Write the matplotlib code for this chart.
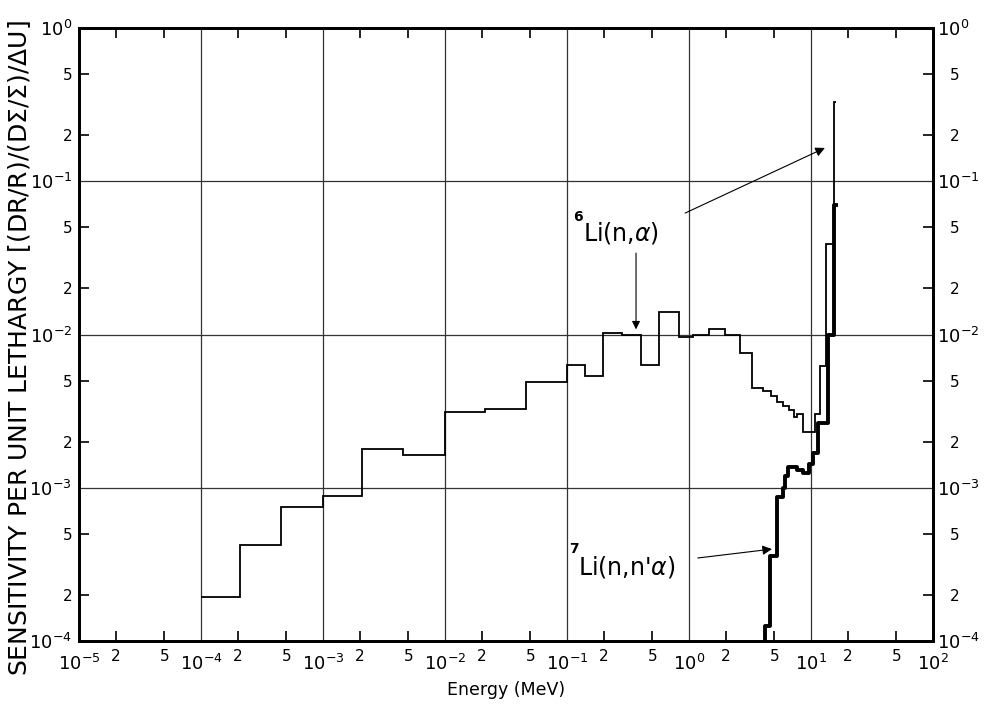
import numpy as np
import matplotlib
matplotlib.use("Agg")
import matplotlib.pyplot as plt
from matplotlib.ticker import FixedLocator, FixedFormatter

# ---------------- data ----------------
# 6Li(n,alpha) sensitivity: group boundaries (MeV) and values
li6_edges = [1.0e-4, 2.1e-4, 4.5e-4, 1.0e-3, 2.1e-3, 4.5e-3, 1.0e-2, 2.13e-2, 4.6e-2,
             0.100, 0.141, 0.197, 0.282, 0.405, 0.568, 0.828, 1.08, 1.46, 1.97,
             2.62, 3.28, 4.05, 4.70, 5.25, 5.89, 6.61, 7.24, 7.67, 8.59,
             10.8, 11.9, 13.3, 15.35, 15.96]
li6_vals = [1.94e-4, 4.24e-4, 7.5e-4, 8.8e-4, 1.8e-3, 1.64e-3, 3.12e-3, 3.27e-3,
            4.9e-3, 6.3e-3, 5.36e-3, 1.02e-2, 1.0e-2, 6.3e-3, 1.40e-2, 9.6e-3,
            1.0e-2, 1.09e-2, 1.0e-2, 7.57e-3, 4.48e-3, 4.28e-3, 3.97e-3, 3.63e-3,
            3.4e-3, 3.2e-3, 2.9e-3, 3.05e-3, 2.3e-3, 3.05e-3, 6.2e-3, 3.9e-2, 0.33]

# 7Li(n,n'alpha) sensitivity
li7_edges = [4.20, 4.61, 5.26, 5.89, 6.17, 6.47, 7.67, 8.59, 9.64, 10.4, 11.4,
             13.8, 15.45, 15.96]
li7_vals = [1.25e-4, 3.6e-4, 8.7e-4, 1.0e-3, 1.2e-3, 1.36e-3, 1.31e-3, 1.24e-3,
            1.42e-3, 1.69e-3, 2.64e-3, 1.0e-2, 7.0e-2]

x_major = [1e-5, 1e-4, 1e-3, 1e-2, 1e-1, 1e0, 1e1, 1e2]
x_major_labels = [r'$10^{-5}$', r'$10^{-4}$', r'$10^{-3}$', r'$10^{-2}$',
                  r'$10^{-1}$', r'$10^{0}$', r'$10^{1}$', r'$10^{2}$']
y_major = [1e-4, 1e-3, 1e-2, 1e-1, 1e0]
y_major_labels = [r'$10^{-4}$', r'$10^{-3}$', r'$10^{-2}$', r'$10^{-1}$', r'$10^{0}$']
minor_mults = [2, 5]

XLIM = (1e-5, 1e2)
YLIM = (1e-4, 1e0)

# ---------------- figure ----------------
plt.rcParams['font.family'] = ['DejaVu Sans']
plt.rcParams['mathtext.fontset'] = 'dejavusans'

fig = plt.figure(figsize=(9.88, 7.04), dpi=100)
ax = fig.add_axes([79/988, 1-641/704, (933-79)/988, (641-28)/704])
ax.set_xscale('log')
ax.set_yscale('log')
ax.set_xlim(*XLIM)
ax.set_ylim(*YLIM)

# grid at decades
ax.grid(True, which='major', color='#333333', lw=0.9)
ax.set_axisbelow(True)

# 6Li curve (thin)
ax.stairs(li6_vals, li6_edges, baseline=None, color='black', lw=1.3, zorder=3)
# 7Li curve (thick), rising from the bottom of the frame
x7 = np.r_[li7_edges[0], li7_edges]
y7 = np.r_[YLIM[0], li7_vals, li7_vals[-1]]
ax.plot(x7, y7, drawstyle='steps-post', color='black', lw=2.8, zorder=4)

# ticks
def minor_positions(lo, hi):
    out = []
    d = lo
    while d < hi:
        for m in minor_mults:
            out.append(d*m)
        d *= 10
    return out

xminor = minor_positions(*XLIM)
yminor = minor_positions(*YLIM)

ax.xaxis.set_major_locator(FixedLocator(x_major))
ax.xaxis.set_major_formatter(FixedFormatter(x_major_labels))
ax.xaxis.set_minor_locator(FixedLocator(xminor))
ax.xaxis.set_minor_formatter(FixedFormatter([str(m) for m in minor_mults]*(len(xminor)//2)))

ax.yaxis.set_major_locator(FixedLocator(y_major))
ax.yaxis.set_major_formatter(FixedFormatter(y_major_labels))
ax.yaxis.set_minor_locator(FixedLocator(yminor))
ax.yaxis.set_minor_formatter(FixedFormatter([str(m) for m in minor_mults]*(len(yminor)//2)))

ax.tick_params(which='both', direction='in', top=True, right=False)
ax.tick_params(which='major', length=0, labelsize=13)
ax.tick_params(which='minor', length=7, width=1.2, labelsize=11)
ax.tick_params(axis='x', which='major', pad=9)
ax.tick_params(axis='x', which='minor', pad=6)
ax.tick_params(axis='y', which='major', pad=5)
ax.tick_params(axis='y', which='minor', pad=5)

for s in ax.spines.values():
    s.set_linewidth(2.0)

# right axis duplicate
ax2 = ax.twinx()
ax2.set_yscale('log')
ax2.set_ylim(*YLIM)
ax2.yaxis.set_major_locator(FixedLocator(y_major))
ax2.yaxis.set_major_formatter(FixedFormatter(y_major_labels))
ax2.yaxis.set_minor_locator(FixedLocator(yminor))
ax2.yaxis.set_minor_formatter(FixedFormatter([str(m) for m in minor_mults]*(len(yminor)//2)))
ax2.tick_params(which='both', direction='in')
ax2.tick_params(which='major', length=0, labelsize=13, pad=3)
ax2.tick_params(which='minor', length=7, width=1.2, labelsize=11, pad=12)
for s in ax2.spines.values():
    s.set_linewidth(2.0)

# labels
ax.set_xlabel('Energy (MeV)', fontsize=12.5, labelpad=5)
fig.text(0.020, 0.505, r'SENSITIVITY PER UNIT LETHARGY [(DR/R)/(D$\Sigma$/$\Sigma$)/$\Delta$U]',
         rotation=90, va='center', ha='center', fontsize=18)

# annotations
ax.text(0.135, 0.0459, r'Li(n,$\alpha$)', fontsize=17, va='center', ha='left')
ax.text(0.112, 0.0585, '6', fontsize=10, va='center', ha='left', fontweight='bold')
ax.annotate('', xy=(13.0, 0.165), xytext=(0.93, 0.062),
            arrowprops=dict(arrowstyle='-|>', color='black', lw=0.8,
                            mutation_scale=14, shrinkA=0, shrinkB=0))
ax.annotate('', xy=(0.368, 0.0108), xytext=(0.368, 0.034),
            arrowprops=dict(arrowstyle='-|>', color='black', lw=0.8,
                            mutation_scale=12, shrinkA=0, shrinkB=0))

ax.text(0.123, 3.04e-4, r"Li(n,n'$\alpha$)", fontsize=17, va='center', ha='left')
ax.text(0.105, 4.0e-4, '7', fontsize=10, va='center', ha='left', fontweight='bold')
ax.annotate('', xy=(4.79, 3.98e-4), xytext=(1.18, 3.48e-4),
            arrowprops=dict(arrowstyle='-|>', color='black', lw=0.8,
                            mutation_scale=14, shrinkA=0, shrinkB=0))

fig.savefig('out.png', dpi=100)
